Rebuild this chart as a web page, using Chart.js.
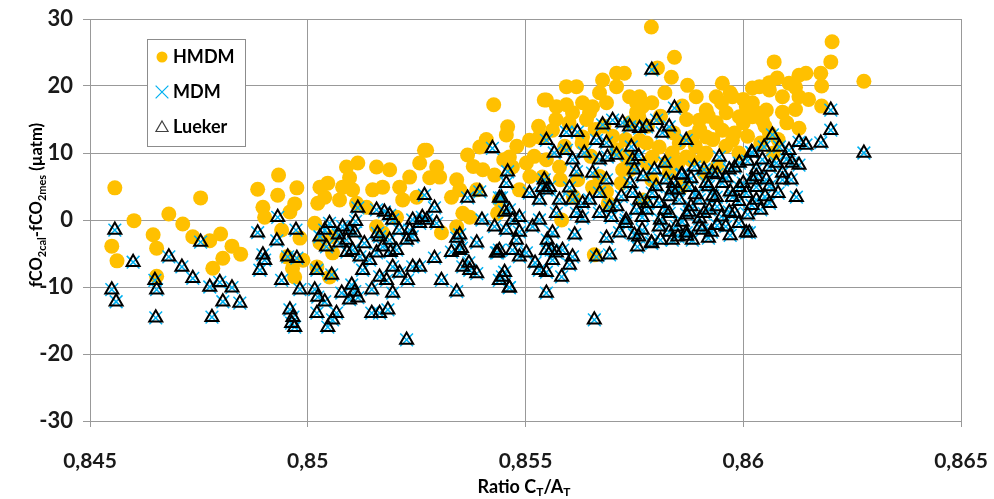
<!DOCTYPE html>
<html lang="fr">
<head>
<meta charset="UTF-8">
<title>fCO2 ratio CT/AT</title>
<script src="https://cdn.jsdelivr.net/npm/chart.js"></script>
<style>
  body { margin: 0; background: #fff; }
  #wrap { width: 994px; height: 499px; }
</style>
</head>
<body>
<div id="wrap"><canvas id="chart"></canvas></div>
<script>
// values: [ratio CT/AT, fCO2cal - fCO2mes]
const hmdmPoints = [
  [0.84557, 4.8], [0.84601, -0.1], [0.8455, -3.9], [0.84562, -6.1], [0.84645, -2.2], [0.84653, -4.2],
  [0.84681, 0.9], [0.84713, -0.6], [0.84754, 3.3], [0.84736, -2.5], [0.84775, -3.1], [0.848, -2.1],
  [0.84826, -3.9], [0.84846, -5.1], [0.84805, -5.7], [0.84782, -7.2], [0.84653, -8.4], [0.84885, 4.6],
  [0.84933, 6.7], [0.84931, 3.7], [0.84975, 4.8], [0.8497, 2.4], [0.84959, 1.2], [0.84897, 1.9],
  [0.84901, 0.4], [0.8494, -1.5], [0.84982, -2.7], [0.84965, -7.2], [0.8497, -8.5], [0.84989, -6],
  [0.84952, -5.5],
  [0.85028, 4.9], [0.85046, 5.5], [0.85039, 3.4], [0.85023, 2.5], [0.85016, -0.5], [0.85028, -3.4],
  [0.85021, -7], [0.8505, -8.5], [0.85089, 7.9], [0.85115, 8.5], [0.85096, 6.3], [0.8508, 4.9],
  [0.85103, 4.5], [0.85073, 3], [0.85112, 2.5], [0.85158, 7.9], [0.85188, 7.5], [0.85172, 4.9],
  [0.85149, 4.5], [0.85158, -1], [0.85172, -1.9], [0.85211, 4.9], [0.85218, 3], [0.85234, 6.4],
  [0.85257, 8.5], [0.85268, 10.4], [0.8525, 3.4], [0.85204, 0.4], [0.85135, 1.9], [0.85057, -4.9],
  [0.85057, -2.5],
  [0.85427, 17.2], [0.85273, 10.4], [0.85296, 7.9], [0.8528, 6.3], [0.85303, 6.4], [0.85367, 9.7],
  [0.85395, 10.9], [0.85402, 7.5], [0.85429, 6.7], [0.85342, 6], [0.8533, 3.4], [0.85349, 4.5],
  [0.85388, 4.5], [0.85356, 1], [0.85372, 0.4], [0.85342, -1], [0.85307, -1.9], [0.85456, 12.7],
  [0.85459, 13.9], [0.85463, 9.4], [0.8547, 7.9], [0.8544, 3], [0.85509, 11.9], [0.85532, 12.4],
  [0.85502, 8.5], [0.85543, 17.9], [0.85486, 4.5], [0.85436, 1],
  [0.8548, 11], [0.8545, 9], [0.8551, 6.5], [0.8538, 8], [0.8541, 12],
  [0.85594, 19.9], [0.85617, 19.9], [0.85677, 20.9], [0.85709, 21.9], [0.85727, 21.9], [0.85709, 19.9],
  [0.8567, 19], [0.85739, 18.4], [0.85755, 17.5], [0.85548, 17.9], [0.85571, 16.9], [0.85594, 17.2],
  [0.85631, 17.5], [0.85654, 16.9], [0.85686, 17.5], [0.85608, 16], [0.85647, 16], [0.85755, 16.1],
  [0.85562, 13.4], [0.85539, 12.4], [0.85631, 12.4], [0.85762, 11.9], [0.85731, 9.4], [0.85548, 9],
  [0.85578, 7.9], [0.85723, 7.5], [0.85539, 6.4], [0.85654, 4.9], [0.85686, 4.2], [0.85583, 0],
  [0.85658, -5.2], [0.8572, 5.5], [0.8577, 3], [0.8569, 2.5], [0.8562, 6], [0.8565, 9.5],
  [0.8559, 11], [0.8552, 9.5], [0.8566, 13.5], [0.857, 12.5], [0.8574, 14.5],
  [0.8558, 6], [0.8561, 3.5], [0.8567, 6.5], [0.8574, 7.5], [0.8579, 6], [0.8586, 5], [0.8591, 7],
  [0.85789, 28.8], [0.85842, 24.3], [0.85803, 22.7], [0.85835, 21.3], [0.85872, 20.1], [0.85952, 20.4],
  [0.85938, 18.4], [0.85892, 18.4], [0.85975, 18.4], [0.86021, 19.7], [0.86007, 16.9], [0.85915, 16.4],
  [0.85961, 16], [0.85991, 15.4], [0.85899, 14.9], [0.85938, 14.5], [0.85952, 13.4], [0.85975, 11.9],
  [0.85915, 12.4], [0.85883, 12.4], [0.85853, 11.5], [0.85807, 10.9], [0.85778, 11.5], [0.85768, 16.9],
  [0.85762, 18.4], [0.85791, 9.4], [0.85837, 10], [0.85823, 8.5], [0.85869, 9.4], [0.85915, 10],
  [0.85778, 8.5], [0.8583, 7], [0.8588, 9], [0.8596, 11], [0.8601, 12.5], [0.8605, 14],
  [0.8578, 14], [0.8581, 15.5], [0.8584, 13], [0.8587, 15], [0.859, 13.5], [0.8592, 15.5],
  [0.8595, 17.5], [0.8598, 13], [0.86, 14.5], [0.8603, 16], [0.8597, 19], [0.86, 18],
  [0.8604, 11.5], [0.8608, 12], [0.8586, 17], [0.8589, 11], [0.8593, 12], [0.8582, 19],
  [0.8579, 17.5], [0.8576, 15.5], [0.8573, 12], [0.8571, 10.5], [0.8568, 14], [0.8564, 15],
  [0.856, 14.5], [0.8557, 15], [0.8553, 14], [0.8563, 11.5], [0.8585, 8.5], [0.8591, 9.5],
  [0.8594, 8], [0.8599, 10], [0.8607, 10], [0.861, 14.5], [0.8612, 16.5], [0.8615, 18],
  [0.8618, 20], [0.8606, 20.5], [0.8612, 19.8], [0.8618, 17],
  [0.86204, 26.6], [0.86201, 23.6], [0.86178, 21.9], [0.86144, 21.9], [0.86128, 21.6], [0.86071, 23.6],
  [0.86078, 21.2], [0.86105, 20.4], [0.86277, 20.7], [0.86037, 19.9], [0.8606, 19.4], [0.8609, 18.4],
  [0.86128, 18.4], [0.86021, 17.5], [0.86053, 16.4], [0.8609, 16.1], [0.86044, 14.9], [0.86021, 15.4],
  [0.86128, 13.7], [0.8606, 13]
];

const luekerPoints = [
  [0.84557, -1.5], [0.8455, -10.4], [0.8456, -12.2], [0.84599, -6.3], [0.84649, -9], [0.84653, -10.4],
  [0.84651, -14.6], [0.84681, -5.5], [0.84711, -7], [0.84736, -8.7], [0.84754, -3.3], [0.84775, -10],
  [0.84798, -9.3], [0.84826, -10.1], [0.84805, -12.2], [0.84844, -12.4], [0.8478, -14.5], [0.84885, -1.9],
  [0.84931, 0.4], [0.84929, -3.1], [0.84897, -5.2], [0.84901, -6], [0.8489, -7.5], [0.84954, -5.5],
  [0.84975, -5.7], [0.84973, -1.5], [0.8494, -9], [0.84982, -10.4], [0.84959, -13.4], [0.84966, -14.5],
  [0.84963, -15.4], [0.8497, -16],
  [0.85115, 1.8], [0.85158, 1.5], [0.85176, 1.2], [0.85188, 0.7], [0.85195, 0], [0.85039, -1.5],
  [0.85028, -2.5], [0.8508, -1], [0.85096, -1.5], [0.85108, -1.9], [0.85089, -3], [0.85073, -3.4],
  [0.85043, -4], [0.85103, -4.5], [0.85021, -7.5], [0.85055, -8.2], [0.85016, -10.4], [0.85023, -11.5],
  [0.85039, -12.2], [0.85021, -13.9], [0.85046, -16], [0.85057, -14.9], [0.85066, -13.9], [0.85078, -10.9],
  [0.85101, -9.7], [0.85108, -10.7], [0.85115, -11.6], [0.85096, -11.9], [0.85147, -13.9], [0.85165, -13.9],
  [0.85184, -13.4], [0.85147, -10.4], [0.85165, -8.5], [0.85181, -9], [0.85195, -10.9], [0.85126, -7.5],
  [0.85142, -6], [0.85158, -4.9], [0.85172, -4], [0.85165, -2.5], [0.85188, -3], [0.85204, -4.5],
  [0.85195, -7], [0.85211, -7.9], [0.85227, -3], [0.85234, -1.5], [0.85241, 0], [0.85257, -0.5],
  [0.85268, 3.7], [0.85273, 0], [0.85241, -7], [0.85229, -9], [0.85227, -17.9],
  [0.8505, -0.5], [0.8507, -2.2], [0.8511, -0.2], [0.8513, -3.5], [0.8516, -2], [0.8519, -4.8],
  [0.8521, -1.5], [0.8524, -2.5], [0.8512, -5.5], [0.8509, -4.8],
  [0.85424, 10.7], [0.85395, 4.2], [0.85367, 3.3], [0.854, 0], [0.85429, -1], [0.85459, 7.2],
  [0.85456, 5.5], [0.85445, 3.3], [0.85463, 1.5], [0.8547, 0], [0.85456, -1.5], [0.85479, -3],
  [0.8547, -4.5], [0.85486, -5.5], [0.8544, -4.5], [0.85433, -4.9], [0.85447, -8.5], [0.85463, -10.1],
  [0.85342, -2.7], [0.8533, -4.8], [0.85353, -4.2], [0.85291, -5.7], [0.85307, -9], [0.85342, -10.7],
  [0.85356, -7], [0.85372, -7.5], [0.85388, -3.4], [0.85548, -10.9], [0.85509, 4], [0.85548, 4.5],
  [0.85532, 3], [0.8555, -3], [0.85559, -4.5], [0.85516, -1], [0.85532, -7.5], [0.85548, 11.9],
  [0.85257, -7], [0.85291, 1.8], [0.85263, 0.4], [0.85296, -0.5], [0.8544, 3.3], [0.85452, 1.2],
  [0.85486, 0.4], [0.85486, -1.8], [0.85502, -4.9], [0.85522, -6.4], [0.85548, -7.8], [0.85543, 6],
  [0.85532, 0], [0.85349, -2.2], [0.85349, -4.5], [0.8537, -6.4], [0.85388, -8], [0.85436, -4.9],
  [0.85452, -7.8], [0.8544, -9], [0.85463, -10.1],
  [0.8579, 22.4], [0.85594, 13.1], [0.85619, 13.1], [0.85677, 14.2], [0.857, 14.9], [0.85723, 14.5],
  [0.85739, 13.9], [0.85762, 13.7], [0.85566, 10], [0.85594, 10.4], [0.85608, 9], [0.85635, 10],
  [0.85663, 11.9], [0.85686, 11.5], [0.8567, 9], [0.85688, 9.4], [0.85709, 9.7], [0.85743, 10.9],
  [0.85746, 9], [0.8575, 7.5], [0.85617, 7.2], [0.85654, 7], [0.85686, 6], [0.8567, 4],
  [0.85555, 4.9], [0.85539, 4.9], [0.85601, 4.8], [0.85578, 3], [0.85608, 3], [0.85631, 2.5],
  [0.85647, 3], [0.85617, 1], [0.85631, 0.3], [0.8567, 1], [0.85693, 1.9], [0.85697, 0.4],
  [0.85731, 0], [0.85746, 4], [0.85762, 3], [0.85755, 1.5], [0.85768, 0.4], [0.85571, 1],
  [0.85562, -1.9], [0.85613, -2.2], [0.85686, -2.7], [0.85716, -1.9], [0.8575, -2.2], [0.85757, -4],
  [0.85548, -4.5], [0.85571, -4.9], [0.85585, -4.5], [0.85608, -5.5], [0.85562, -6], [0.85601, -6.7],
  [0.85693, -5.2], [0.85663, -5.5], [0.85583, -8.5], [0.85658, -14.9],
  [0.85842, 16.7], [0.85801, 14.9], [0.8583, 13.9], [0.85814, 13], [0.85869, 11.9], [0.85778, 13.9],
  [0.85796, 7.5], [0.85888, 7.9], [0.85858, 6.7], [0.85823, 6], [0.85945, 9.4], [0.86019, 10.1],
  [0.85991, 8.5], [0.85968, 7.5], [0.85929, 7], [0.85915, 5.5], [0.85952, 5.5], [0.85991, 4.9],
  [0.86021, 6], [0.85876, 4.9], [0.85837, 4.5], [0.85791, 4], [0.85807, 2.5], [0.85853, 3],
  [0.85899, 3], [0.85938, 3.4], [0.85975, 3.4], [0.86007, 4], [0.85778, 1.5], [0.8583, 1],
  [0.85876, 1.2], [0.85922, 1.5], [0.85968, 1.2], [0.85768, -1.5], [0.85807, -1], [0.85846, -1],
  [0.85869, -1.9], [0.85906, -1.5], [0.85927, -1.8], [0.85837, -3], [0.85883, -3], [0.85789, -3.4],
  [0.86007, -1.9],
  [0.8584, 5.5], [0.8588, 6.2], [0.8592, 5], [0.8596, 6.3], [0.86, 5.5], [0.8603, 6.5],
  [0.8594, 2], [0.8598, 1], [0.8602, 2.2], [0.8605, 3.5], [0.8581, 0], [0.8586, -0.3],
  [0.859, 0.2], [0.8588, 2], [0.8583, 3.5], [0.858, 5], [0.8577, 6.5], [0.8574, 5.5],
  [0.8572, 3.5], [0.8571, 2], [0.8573, -0.5], [0.8576, -2.5], [0.8579, -3.5], [0.8585, -2.5],
  [0.8592, -2.7], [0.8596, -1], [0.8599, -0.5],
  [0.8578, 2.5], [0.8582, 1.5], [0.8585, 4.5], [0.8587, 0.8], [0.8589, 3.8], [0.8591, 1],
  [0.8593, 3.6], [0.8595, 0.5], [0.8597, 4.2], [0.8599, 2.8], [0.8601, 0.8], [0.8603, 3],
  [0.8604, 1.5], [0.8606, 5], [0.8608, 4], [0.8609, 7], [0.8611, 6], [0.8583, -1.8],
  [0.8587, -2.4], [0.859, -1], [0.8594, -0.8], [0.8597, -2.3], [0.8581, -3], [0.8586, 6.8],
  [0.8591, 7.5], [0.8594, 6.8], [0.8598, 7.8], [0.8582, 8.5], [0.8576, 9.5], [0.8601, 8.8],
  [0.86201, 16.4], [0.86201, 13.4], [0.86277, 10], [0.86178, 11.5], [0.86144, 11.2], [0.86128, 11.6],
  [0.86067, 12.7], [0.86083, 10.9], [0.86105, 10.4], [0.86048, 10.9], [0.86021, 10], [0.86128, 8.2],
  [0.8609, 6], [0.86122, 3.4], [0.8606, 2.5], [0.86044, 9], [0.8606, 7.9], [0.8603, 7.5],
  [0.86053, 6], [0.8603, 4.9], [0.86076, 8.5], [0.86099, 9], [0.86112, 8.5], [0.86014, -1.9]
];

// MDM sits under the Lueker markers at the same places
const mdmPoints = luekerPoints;

const xTicks = [0.845, 0.85, 0.855, 0.86, 0.865];
const yTicks = [-30, -20, -10, 0, 10, 20, 30];
const seriesNames = ['HMDM', 'MDM', 'Lueker'];

const toXY = pts => pts.map(p => ({ x: p[0], y: p[1] }));
const fontFamily = 'Lato, "Open Sans", sans-serif';

// legend box inside plot + axis titles with subscripts
const extras = {
  id: 'extras',
  afterDatasetsDraw(chart) {
    const ctx = chart.ctx;
    ctx.save();
    // legend
    ctx.fillStyle = '#fff';
    ctx.fillRect(147, 39, 98, 107);
    ctx.strokeStyle = '#8c8c8c';
    ctx.lineWidth = 1;
    ctx.strokeRect(147.5, 39.5, 98, 107);
    const rows = [57, 92, 127];
    const styles = [
      { pointStyle: 'circle', radius: 5.5, borderWidth: 0 },
      { pointStyle: 'crossRot', radius: 9, borderWidth: 1.2 },
      { pointStyle: 'triangle', radius: 7, borderWidth: 1.2 }
    ];
    const colors = [['#FFC000', '#FFC000'], ['#00B0F0', '#00B0F0'], ['rgba(0,0,0,0)', '#404040']];
    rows.forEach((y, i) => {
      ctx.fillStyle = colors[i][0];
      ctx.strokeStyle = colors[i][1];
      ctx.lineWidth = styles[i].borderWidth;
      Chart.helpers.drawPoint(ctx, styles[i], 162, y + (i === 2 ? 1 : 0));
      ctx.fillStyle = '#000';
      ctx.font = 'bold 18px ' + fontFamily;
      ctx.textBaseline = 'middle';
      ctx.textAlign = 'left';
      ctx.fillText(seriesNames[i], 173, y);
    });

    // axis titles
    const drawRich = (parts, cx, cy, size, subSize) => {
      const big = 'bold ' + size + 'px ' + fontFamily;
      const small = 'bold ' + subSize + 'px ' + fontFamily;
      let w = 0;
      parts.forEach(p => { ctx.font = p[1] ? small : big; w += ctx.measureText(p[0]).width; });
      let x = cx - w / 2;
      parts.forEach(p => {
        ctx.font = p[1] ? small : big;
        ctx.fillText(p[0], x, cy + (p[1] ? 5 : 0));
        x += ctx.measureText(p[0]).width;
      });
    };
    ctx.fillStyle = '#000';
    ctx.textAlign = 'left';
    ctx.textBaseline = 'middle';
    drawRich([['Ratio C', 0], ['T', 1], ['/A', 0], ['T', 1]], 524, 487, 18, 12);
    ctx.translate(37, 205);
    ctx.rotate(-Math.PI / 2);
    drawRich([['fCO', 0], ['2cal', 1], ['-fCO', 0], ['2mes', 1], [' (\u00b5atm)', 0]], 0, 0, 16.5, 11);
    ctx.restore();
  }
};

new Chart(document.getElementById('chart'), {
  type: 'scatter',
  data: {
    datasets: [
      {
        label: seriesNames[0],
        data: toXY(hmdmPoints),
        pointStyle: 'circle',
        pointRadius: 7.5,
        backgroundColor: '#FFC000',
        borderWidth: 0,
        order: 3
      },
      {
        label: seriesNames[1],
        data: toXY(mdmPoints),
        pointStyle: 'crossRot',
        pointRadius: 9,
        borderColor: '#00B0F0',
        borderWidth: 1.5,
        order: 2
      },
      {
        label: seriesNames[2],
        data: toXY(luekerPoints),
        pointStyle: 'triangle',
        pointRadius: 7.5,
        backgroundColor: 'rgba(0,0,0,0)',
        borderColor: '#000',
        borderWidth: 2,
        order: 1
      }
    ]
  },
  options: {
    responsive: true,
    maintainAspectRatio: false,
    animation: false,
    layout: { padding: { top: 19, right: 33, left: 0, bottom: 0 } },
    plugins: { legend: { display: false }, tooltip: { enabled: false } },
    scales: {
      x: {
        type: 'linear',
        min: 0.845,
        max: 0.865,
        afterBuildTicks: s => { s.ticks = xTicks.map(v => ({ value: v })); },
        afterFit: s => { s.height = 78; s.paddingLeft = 0; s.paddingRight = 0; },
        grid: { color: '#999', lineWidth: 1, tickLength: 6 },
        border: { color: '#999' },
        ticks: {
          padding: 22,
          color: '#1a1a1a',
          font: { family: fontFamily, size: 21, weight: 'bold' },
          callback: v => String(v).replace('.', ',')
        }
      },
      y: {
        type: 'linear',
        min: -30,
        max: 30,
        afterBuildTicks: s => { s.ticks = yTicks.map(v => ({ value: v })); },
        afterFit: s => { s.width = 90; s.paddingTop = 0; s.paddingBottom = 0; },
        grid: { color: '#999', lineWidth: 1, tickLength: 7 },
        border: { color: '#999' },
        ticks: {
          padding: 10,
          color: '#1a1a1a',
          font: { family: fontFamily, size: 22, weight: 'bold' }
        }
      }
    }
  },
  plugins: [extras]
});
</script>
</body>
</html>
